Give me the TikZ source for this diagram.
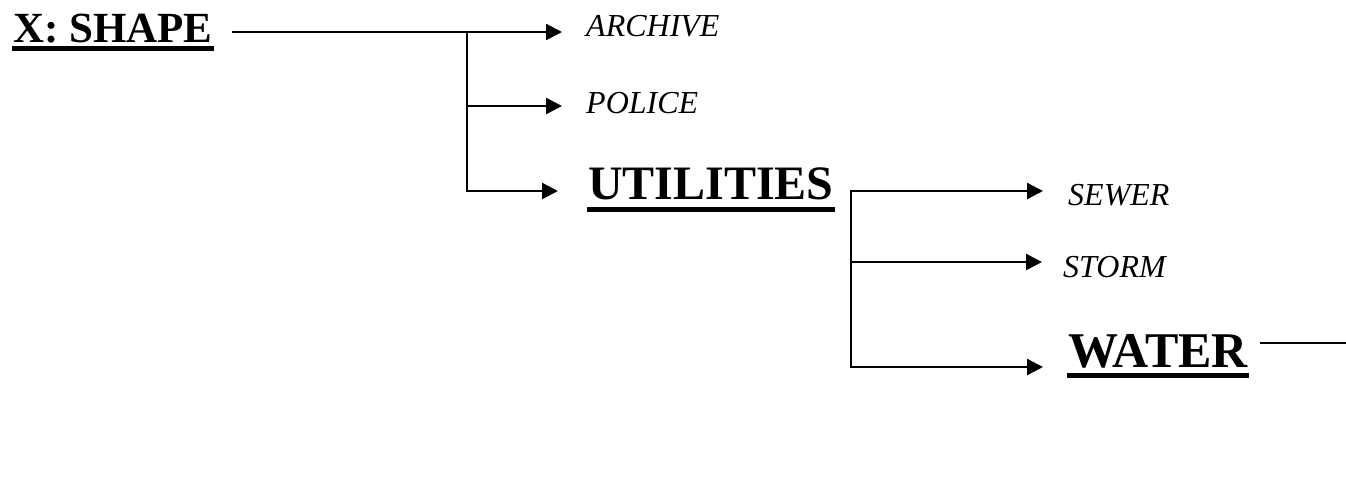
\documentclass[tikz,border=0pt]{standalone}
\usepackage{fontspec}
\setmainfont{Liberation Serif}
\usetikzlibrary{arrows.meta}

\begin{document}
\begin{tikzpicture}[x=1pt,y=-1pt,
  line width=2.4pt, line cap=rect,
  head/.style={font=\fontsize{48}{48}\selectfont\bfseries, anchor=base west, inner sep=0pt},
  leaf/.style={font=\fontsize{32}{32}\selectfont\itshape, anchor=base west, inner sep=0pt},
  arr/.style={-{Triangle[length=16pt,width=16pt]}},
  uline/.style={line width=5pt, line cap=butt}]
\useasboundingbox (0,0) rectangle (1346,496);

\node [head, font=\fontsize{43}{43}\selectfont\bfseries] (shape) at (12,42) {X: SHAPE};
\node [head] (utilities) at (587,199) {UTILITIES};
\node [head, font=\fontsize{50}{50}\selectfont\bfseries] (water) at (1067,367) {WATER};

\foreach \lbl/\txt/\x/\y in
  {archive/ARCHIVE/585/36, police/POLICE/585/113,
   sewer/SEWER/1067/205, storm/STORM/1062/277}
  \node [leaf] (\lbl) at (\x,\y) {\txt};

\foreach \n/\d in {shape/6, utilities/10, water/8}
  \draw [uline] ([yshift=-\d pt]\n.base west) -- ([yshift=-\d pt]\n.base east);

% X: SHAPE
\coordinate (j1) at (467,32);
\coordinate (j1p) at (467,106);
\coordinate (j1u) at (467,191);
\draw [arr] ([xshift=19pt]shape.east |- j1) -- ([xshift=-23pt]archive.west |- j1);
\draw [arr] (j1p) -- ([xshift=-23pt]police.west |- j1p);
\draw [arr] (j1) |- ([xshift=-29pt]utilities.west |- j1u);

% UTILITIES
\coordinate (j2) at (851,191);
\coordinate (j2s) at (851,262);
\coordinate (j2w) at (851,367);
\draw [arr] (j2w) -- (j2) -- ([xshift=-24pt]sewer.west |- j2);
\draw [arr] (j2s) -- ([xshift=-20pt]storm.west |- j2s);
\draw [arr] (j2w) -- ([xshift=-24pt]water.west |- j2w);

\coordinate (rim) at (1346,343);
\draw ([xshift=12pt]water.east |- rim) -- (rim);

\end{tikzpicture}
\end{document}
